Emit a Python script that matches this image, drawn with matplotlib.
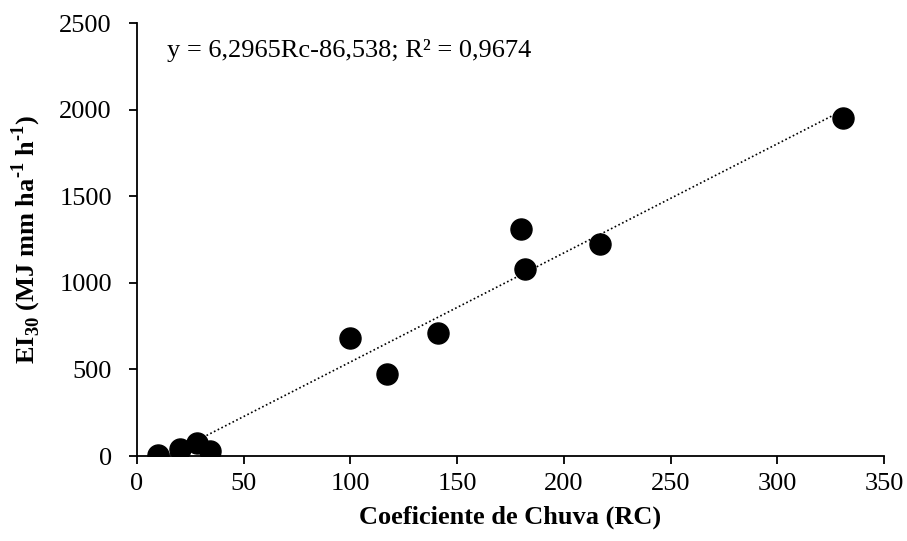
import matplotlib
matplotlib.use("Agg")
import matplotlib.pyplot as plt
import numpy as np

plt.rcParams["font.family"] = "Liberation Serif"
plt.rcParams["mathtext.fontset"] = "custom"
plt.rcParams["mathtext.rm"] = "Liberation Serif:bold"
plt.rcParams["mathtext.bf"] = "Liberation Serif:bold"

rc = [10, 20, 28, 34, 100, 117, 141, 180, 182, 217, 331]
ei30 = [5, 40, 75, 28, 680, 472, 712, 1312, 1082, 1222, 1952]

slope = 6.2965
intercept = -86.538

fig = plt.figure(figsize=(9.07, 5.41), dpi=100)
ax = fig.add_axes([0.151, 0.157, 0.8236, 0.8004])

xs = np.linspace(min(rc), max(rc), 200)
ys = slope * xs + intercept
ax.plot(xs, ys, color="black", linestyle=(0, (1, 1.5)), linewidth=1.2, zorder=2)
ax.scatter(rc, ei30, s=230, color="black", zorder=3)

ax.set_xlim(0, 350)
ax.set_ylim(0, 2500)
ax.set_xticks(range(0, 351, 50))
ax.set_yticks(range(0, 2501, 500))
ax.spines["top"].set_visible(False)
ax.spines["right"].set_visible(False)
for s in ["left", "bottom"]:
    ax.spines[s].set_linewidth(1.3)
ax.tick_params(direction="out", length=6, width=1.3, labelsize=19)
ax.tick_params(axis="x", pad=6)
ax.tick_params(axis="y", pad=12)

ax.set_xlabel("Coeficiente de Chuva (RC)", fontsize=19, fontweight="bold", labelpad=8)
ax.set_ylabel(r"EI$_{30}$ (MJ mm ha$^{\text{-}1}$ h$^{\text{-}1}$)",
              fontsize=19, fontweight="bold", labelpad=12)

ax.text(0.04, 0.937, "y = 6,2965Rc-86,538; R² = 0,9674", transform=ax.transAxes,
        fontsize=19, va="center", ha="left")

fig.savefig("out.png", dpi=100)
